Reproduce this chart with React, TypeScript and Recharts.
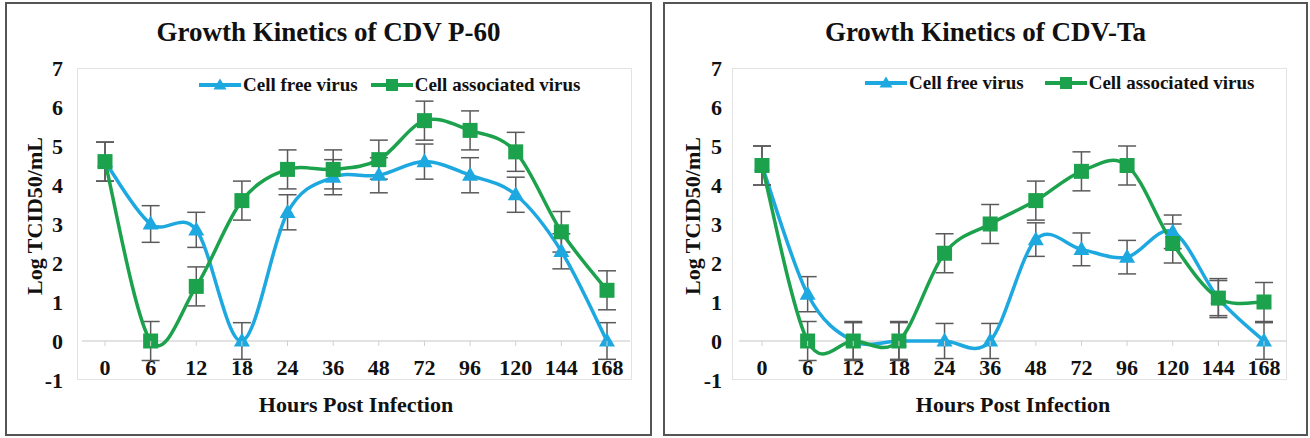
import React from 'react';
import { LineChart, Line, XAxis, YAxis, ErrorBar, ReferenceLine, Legend } from 'recharts';

// ---------- data ----------
const hours = ['0', '6', '12', '18', '24', '36', '48', '72', '96', '120', '144', '168'];
const yTicks = [-1, 0, 1, 2, 3, 4, 5, 6, 7];

const p60CellFree = [4.6, 3.0, 2.85, 0, 3.3, 4.2, 4.25, 4.6, 4.25, 3.75, 2.3, 0];
const p60CellFreeErr = [0.5, 0.47, 0.45, 0.47, 0.45, 0.45, 0.45, 0.45, 0.45, 0.45, 0.45, 0.47];
const p60CellAssoc = [4.6, 0, 1.4, 3.6, 4.4, 4.4, 4.65, 5.65, 5.4, 4.85, 2.8, 1.3];
const p60CellAssocErr = [0.5, 0.5, 0.5, 0.5, 0.5, 0.5, 0.5, 0.5, 0.5, 0.5, 0.52, 0.5];

const taCellFree = [4.5, 1.2, 0, 0, 0, 0, 2.6, 2.35, 2.15, 2.8, 1.1, 0];
const taCellFreeErr = [0.5, 0.45, 0.47, 0.47, 0.45, 0.45, 0.43, 0.42, 0.43, 0.43, 0.45, 0.47];
const taCellAssoc = [4.5, 0, 0, 0, 2.25, 3.0, 3.6, 4.35, 4.5, 2.5, 1.1, 1.0];
const taCellAssocErr = [0.5, 0.5, 0.5, 0.5, 0.5, 0.5, 0.5, 0.5, 0.5, 0.5, 0.5, 0.5];

const seriesNames = ['Cell free virus', 'Cell associated virus'];

// ---------- style ----------
const BLUE = '#1EA8E0';
const GREEN = '#1CA24C';
const ERR = '#5a5a5a';
const FONT = '"Liberation Serif", "Times New Roman", serif';
const Y_MIN = -1;
const Y_MAX = 7;
const PLOT_TOP = 68;
const PLOT_BOTTOM = 380;
const H = 438;
const PLOT_H = PLOT_BOTTOM - PLOT_TOP;
const ZERO_OFFSET = (PLOT_H * (0 - Y_MIN)) / (Y_MAX - Y_MIN);
const BAND_PAD = 23;

const buildRows = (cf: number[], cfErr: number[], ca: number[], caErr: number[]) =>
  hours.map((h, i) => ({ hour: h, cf: cf[i], cfErr: cfErr[i], ca: ca[i], caErr: caErr[i] }));

const p60Rows = buildRows(p60CellFree, p60CellFreeErr, p60CellAssoc, p60CellAssocErr);
const taRows = buildRows(taCellFree, taCellFreeErr, taCellAssoc, taCellAssocErr);

// Excel-like smoothed line (Catmull-Rom through the points)
const excelSmooth = (context: any) => {
  let pts: number[][] = [];
  return {
    areaStart() {},
    areaEnd() {},
    lineStart() {
      pts = [];
    },
    point(x: number, y: number) {
      pts.push([+x, +y]);
    },
    lineEnd() {
      const n = pts.length;
      if (!n) return;
      context.moveTo(pts[0][0], pts[0][1]);
      for (let i = 0; i < n - 1; i++) {
        const p0 = pts[i === 0 ? 0 : i - 1];
        const p1 = pts[i];
        const p2 = pts[i + 1];
        const p3 = pts[i + 2 < n ? i + 2 : n - 1];
        context.bezierCurveTo(
          p1[0] + (p2[0] - p0[0]) / 6,
          p1[1] + (p2[1] - p0[1]) / 6,
          p2[0] - (p3[0] - p1[0]) / 6,
          p2[1] - (p3[1] - p1[1]) / 6,
          p2[0],
          p2[1]
        );
      }
    },
  };
};

const triPath = (cx: number, cy: number, w: number, h: number) =>
  `M${cx},${cy - h * 0.6} L${cx + w / 2},${cy + h * 0.4} L${cx - w / 2},${cy + h * 0.4} Z`;

const TriangleDot = (props: any) => {
  const { cx, cy, index } = props;
  if (cx == null || cy == null) return <g key={`t${index}`} />;
  return <path key={`t${index}`} d={triPath(cx, cy, 16, 14)} fill={BLUE} />;
};

const SquareDot = (props: any) => {
  const { cx, cy, index } = props;
  if (cx == null || cy == null) return <g key={`s${index}`} />;
  return <rect key={`s${index}`} x={cx - 7.5} y={cy - 7.5} width={15} height={15} fill={GREEN} />;
};

const XTick = (props: any) => {
  const { x, y, payload } = props;
  return (
    <g>
      <line x1={x} x2={x} y1={y - ZERO_OFFSET} y2={y - ZERO_OFFSET + 5} stroke="#d0d0d0" strokeWidth={1} />
      <text x={x} y={y - 5} textAnchor="middle" fontFamily={FONT} fontWeight="bold" fontSize={22} fill="#111">
        {payload.value}
      </text>
    </g>
  );
};

const makeLegend = (gap: number) => () => (
  <div style={{ display: 'flex', alignItems: 'center', fontFamily: FONT, fontWeight: 'bold', fontSize: 19, color: '#111', whiteSpace: 'nowrap' }}>
    <svg width={42} height={16} style={{ display: 'block' }}>
      <line x1={0} x2={42} y1={8} y2={8} stroke={BLUE} strokeWidth={4} />
      <path d={triPath(21, 8, 13, 11)} fill={BLUE} />
    </svg>
    <span style={{ marginLeft: 2 }}>{seriesNames[0]}</span>
    <svg width={42} height={16} style={{ display: 'block', marginLeft: gap }}>
      <line x1={0} x2={42} y1={8} y2={8} stroke={GREEN} strokeWidth={4} />
      <rect x={15} y={2} width={12} height={12} fill={GREEN} />
    </svg>
    <span style={{ marginLeft: 2 }}>{seriesNames[1]}</span>
  </div>
);

type PanelProps = {
  rows: any[];
  left: number;
  width: number;
  yAxisWidth: number;
  rightMargin: number;
  tickMargin: number;
  legendLeft: number;
  legendTop: number;
  legendGap: number;
};

const Panel = ({ rows, left, width, yAxisWidth, rightMargin, tickMargin, legendLeft, legendTop, legendGap }: PanelProps) => (
  <div style={{ position: 'absolute', left, top: 0, width, height: H }}>
    <LineChart width={width} height={H} data={rows} margin={{ top: PLOT_TOP, right: rightMargin, bottom: 0, left: 0 }}>
      <XAxis
        dataKey="hour"
        height={H - PLOT_BOTTOM}
        axisLine={false}
        tickLine={false}
        tickSize={0}
        tickMargin={0}
        interval={0}
        padding={{ left: BAND_PAD, right: BAND_PAD }}
        tick={<XTick />}
      />
      <YAxis
        type="number"
        domain={[Y_MIN, Y_MAX]}
        ticks={yTicks}
        width={yAxisWidth}
        axisLine={false}
        tickLine={false}
        tickSize={0}
        tickMargin={tickMargin}
        interval={0}
        tick={{ fontFamily: FONT, fontWeight: 'bold', fontSize: 22, fill: '#111' }}
      />
      <ReferenceLine y={0} stroke="#d9d9d9" strokeWidth={1.5} />
      <Legend
        verticalAlign="middle"
        layout="horizontal"
        content={makeLegend(legendGap)}
        wrapperStyle={{ position: 'absolute', top: legendTop, left: legendLeft, width: 'auto' }}
      />
      <Line
        dataKey="cf"
        name={seriesNames[0]}
        type={excelSmooth as any}
        stroke={BLUE}
        strokeWidth={3.5}
        dot={TriangleDot}
        activeDot={false}
        isAnimationActive={false}
      >
        <ErrorBar dataKey="cfErr" direction="y" width={9} stroke={ERR} strokeWidth={1.5} />
      </Line>
      <Line
        dataKey="ca"
        name={seriesNames[1]}
        type={excelSmooth as any}
        stroke={GREEN}
        strokeWidth={3.5}
        dot={SquareDot}
        activeDot={false}
        isAnimationActive={false}
      >
        <ErrorBar dataKey="caErr" direction="y" width={9} stroke={ERR} strokeWidth={1.5} />
      </Line>
    </LineChart>
  </div>
);

const textBold = { position: 'absolute' as const, fontFamily: FONT, fontWeight: 'bold' as const, color: '#111', whiteSpace: 'nowrap' as const };

export default function App() {
  return (
    <div style={{ position: 'fixed', left: 0, top: 0, width: 1310, height: H, background: '#fff', overflow: 'hidden' }}>
      {/* panel frames */}
      <div style={{ position: 'absolute', left: 5, top: 2, width: 647, height: 434, border: '2px solid #555', boxSizing: 'border-box' }} />
      <div style={{ position: 'absolute', left: 663, top: 2, width: 645, height: 434, border: '2px solid #555', boxSizing: 'border-box' }} />
      {/* plot-area frames */}
      <div style={{ position: 'absolute', left: 77, top: PLOT_TOP, width: 555, height: PLOT_H, border: '1px solid #e3e3e3', boxSizing: 'border-box' }} />
      <div style={{ position: 'absolute', left: 732, top: PLOT_TOP, width: 555, height: PLOT_H, border: '1px solid #e3e3e3', boxSizing: 'border-box' }} />

      <Panel rows={p60Rows} left={0} width={660} yAxisWidth={82} rightMargin={30} tickMargin={19} legendLeft={199} legendTop={74} legendGap={13} />
      <Panel rows={taRows} left={660} width={650} yAxisWidth={79} rightMargin={23} tickMargin={17} legendLeft={205} legendTop={72} legendGap={21} />

      {/* titles */}
      <div style={{ ...textBold, left: 5, width: 647, top: 17, fontSize: 27, textAlign: 'center' }}>Growth Kinetics of CDV P-60</div>
      <div style={{ ...textBold, left: 663, width: 645, top: 17, fontSize: 27, textAlign: 'center' }}>Growth Kinetics of CDV-Ta</div>

      {/* x axis titles */}
      <div style={{ ...textBold, left: 82, width: 548, top: 392, fontSize: 22, textAlign: 'center' }}>Hours Post Infection</div>
      <div style={{ ...textBold, left: 739, width: 548, top: 392, fontSize: 22, textAlign: 'center' }}>Hours Post Infection</div>

      {/* y axis titles */}
      <div style={{ ...textBold, left: 35, top: 216, fontSize: 22, transform: 'translate(-50%, -50%) rotate(-90deg)' }}>Log TCID50/mL</div>
      <div style={{ ...textBold, left: 693, top: 216, fontSize: 22, transform: 'translate(-50%, -50%) rotate(-90deg)' }}>Log TCID50/mL</div>
    </div>
  );
}
